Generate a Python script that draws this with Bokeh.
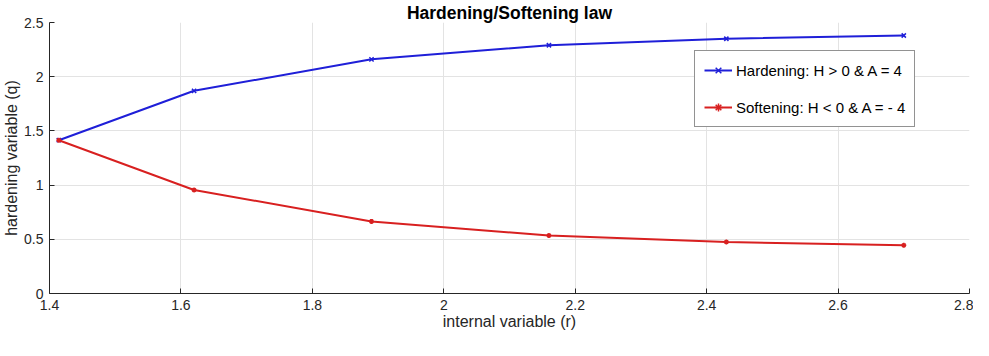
from bokeh.plotting import figure
from bokeh.models import FixedTicker, Legend, LegendItem, Range1d
from bokeh.embed import file_html
from bokeh.resources import INLINE

# data
r_values = [1.4142, 1.62, 1.89, 2.16, 2.43, 2.70]
q_hardening = [1.4142, 1.87, 2.16, 2.29, 2.35, 2.38]
q_softening = [1.4142, 0.955, 0.665, 0.535, 0.475, 0.445]
x_ticks = [1.4, 1.6, 1.8, 2.0, 2.2, 2.4, 2.6, 2.8]
x_tick_labels = ["1.4", "1.6", "1.8", "2", "2.2", "2.4", "2.6", "2.8"]
y_ticks = [0, 0.5, 1.0, 1.5, 2.0, 2.5]
y_tick_labels = ["0", "0.5", "1", "1.5", "2", "2.5"]
label_hard = "Hardening: H > 0 & A = 4"
label_soft = "Softening: H < 0 & A = - 4"

FONT = "Liberation Sans"
BLUE = "#1f1fd8"
RED = "#d82020"

p = figure(output_backend="svg", toolbar_location=None,
           width=973, height=336,
           x_range=Range1d(1.4, 2.8), y_range=Range1d(0, 2.5),
           min_border_left=47, min_border_right=4, min_border_top=17, min_border_bottom=43,
           title="Hardening/Softening law")
p.outline_line_color = None
p.background_fill_color = "white"
p.border_fill_color = "white"

p.title.align = "center"
p.title.text_font = FONT
p.title.text_font_size = "17.5px"
p.title.text_font_style = "bold"
p.title.text_color = "#000000"
p.title.standoff = 0

for ax in (p.xaxis[0], p.yaxis[0]):
    ax.major_tick_in = 5
    ax.major_tick_out = 0
    ax.minor_tick_in = 0
    ax.minor_tick_out = 0
    ax.axis_line_color = "#262626"
    ax.major_tick_line_color = "#262626"
    ax.major_label_text_font = FONT
    ax.major_label_text_font_size = "14px"
    ax.major_label_text_color = "#262626"
    ax.axis_label_text_font = FONT
    ax.axis_label_text_font_size = "16px"
    ax.axis_label_text_font_style = "normal"
    ax.axis_label_text_color = "#262626"

p.xaxis.ticker = FixedTicker(ticks=x_ticks)
p.yaxis.ticker = FixedTicker(ticks=y_ticks)
p.xaxis.major_label_overrides = dict(zip(x_ticks, x_tick_labels))
p.yaxis.major_label_overrides = dict(zip(y_ticks, y_tick_labels))
p.xaxis.axis_label = "internal variable (r)"
p.yaxis.axis_label = "hardening variable (q)"
p.xaxis.major_label_standoff = 6
p.yaxis.major_label_standoff = 6
p.xaxis.axis_label_standoff = 0
p.yaxis.axis_label_standoff = 1

p.xgrid.grid_line_color = "#e3e3e3"
p.ygrid.grid_line_color = "#e3e3e3"

lh = p.line(r_values, q_hardening, line_color=BLUE, line_width=2)
mh = p.scatter(r_values, q_hardening, marker="x", size=6, line_color=BLUE, line_width=1.5)
ls = p.line(r_values, q_softening, line_color=RED, line_width=2)
ms = p.scatter(r_values, q_softening, marker="asterisk", size=5, line_color=RED, line_width=1.5)

legend = Legend(items=[LegendItem(label=label_hard, renderers=[lh, mh]),
                       LegendItem(label=label_soft, renderers=[ls, ms])],
                location=(645, 166))
legend.label_text_font = FONT
legend.label_text_font_size = "15px"
legend.label_text_color = "#000000"
legend.glyph_width = 28
legend.glyph_height = 20
legend.label_height = 20
legend.label_standoff = 4
legend.spacing = 17
legend.padding = 9
legend.margin = 0
legend.border_line_color = "#262626"
legend.border_line_width = 1
legend.background_fill_color = "white"
legend.background_fill_alpha = 1
p.add_layout(legend, "center")

open("out.html", "w").write(file_html(p, INLINE))
